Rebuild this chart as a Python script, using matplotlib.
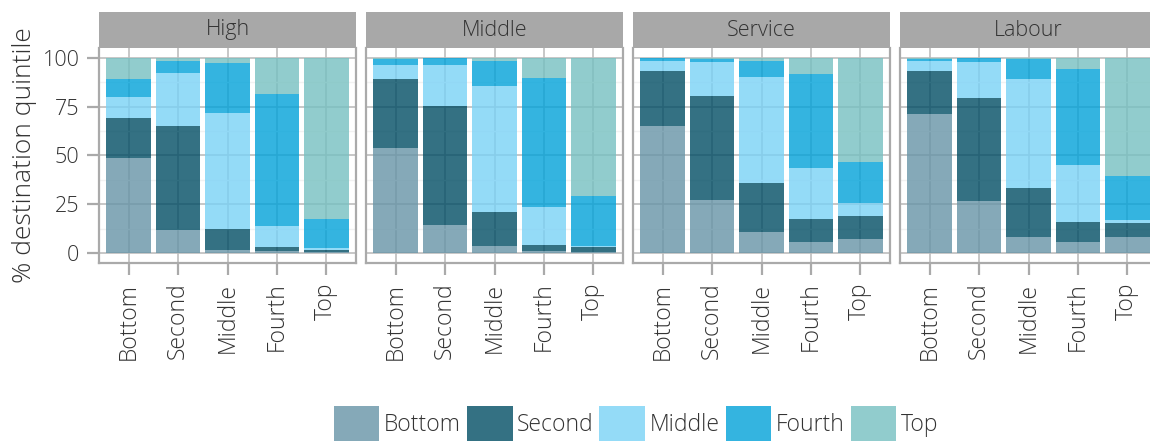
import matplotlib
matplotlib.use("Agg")
import matplotlib.pyplot as plt
import numpy as np
from matplotlib.patches import Patch

plt.rcParams["font.family"] = ["Open Sans", "DejaVu Sans"]
plt.rcParams["font.weight"] = "light"

origins = ["High", "Middle", "Service", "Labour"]
quintiles = ["Bottom", "Second", "Middle", "Fourth", "Top"]
colors = ["#6794a7", "#014d64", "#7ad2f6", "#01a2d9", "#76c0c1"]

# % in each destination quintile, rows = origin quintile (Bottom..Top)
# columns = destination quintile (Bottom, Second, Middle, Fourth, Top)
high = [
    [48.6, 20.4, 11.0, 9.3, 10.7],
    [12.0, 53.3, 26.9, 6.1, 1.7],
    [1.9, 10.5, 59.5, 25.4, 2.7],
    [1.2, 2.0, 10.8, 67.4, 18.6],
    [0.7, 0.8, 1.2, 14.7, 82.6],
]
middle = [
    [53.8, 35.5, 6.8, 3.4, 0.5],
    [14.4, 60.9, 20.8, 3.6, 0.3],
    [3.7, 17.5, 64.2, 13.2, 1.4],
    [1.2, 3.0, 19.5, 66.0, 10.3],
    [0.7, 2.5, 0.5, 25.4, 70.9],
]
service = [
    [65.3, 27.8, 5.2, 1.4, 0.3],
    [27.1, 53.4, 17.3, 1.4, 0.8],
    [10.7, 25.0, 54.5, 8.4, 1.4],
    [5.8, 11.6, 26.1, 48.4, 8.1],
    [7.3, 11.7, 6.7, 21.2, 53.1],
]
labour = [
    [71.2, 22.2, 5.2, 0.9, 0.5],
    [26.6, 52.8, 18.4, 1.9, 0.3],
    [8.5, 24.7, 55.8, 10.2, 0.8],
    [5.8, 10.1, 29.1, 49.1, 5.9],
    [8.3, 7.3, 1.3, 22.5, 60.6],
]
panels = [high, middle, service, labour]

W, H = 1150, 441
fig = plt.figure(figsize=(W / 100, H / 100), dpi=100)

text_col = "#333333"
frame_col = "#aaaaaa"
grid_col = "#bdbdbd"

lefts = [99, 366, 633, 900]
pw = 257
top, bottom = 48, 263
strip_top = 12

x = np.arange(1, 6)
for i, (name, data) in enumerate(zip(origins, panels)):
    ax = fig.add_axes([lefts[i] / W, 1 - bottom / H, pw / W, (bottom - top) / H])
    data = np.asarray(data)
    base = np.zeros(5)
    for j in range(5):
        ax.bar(x, data[:, j], bottom=base, width=0.9, color=colors[j],
               alpha=0.8, linewidth=0, zorder=2)
        base += data[:, j]
    ax.set_xlim(0.4, 5.6)
    ax.set_ylim(-5, 105)
    ax.set_yticks([0, 25, 50, 75, 100])
    ax.set_yticks([12.5, 37.5, 62.5, 87.5], minor=True)
    ax.set_xticks(x)
    ax.set_xticklabels(quintiles, rotation=90, fontsize=16.5, color=text_col)
    ax.grid(True, which="major", color=grid_col, linewidth=1.2, zorder=0)
    ax.grid(True, which="minor", axis="y", color="#f2f2f2", linewidth=1.0, zorder=0)
    ax.set_axisbelow(True)
    for s in ax.spines.values():
        s.set_color(frame_col)
        s.set_linewidth(1.6)
    ax.spines["top"].set_visible(False)
    ax.tick_params(axis="x", length=8.6, width=1.6, color=frame_col, pad=5.5)
    ax.tick_params(axis="y", which="minor", length=0)
    if i == 0:
        ax.set_yticklabels(["0", "25", "50", "75", "100"], fontsize=15.5, color=text_col)
        ax.tick_params(axis="y", which="major", length=8.6, width=1.6,
                       color=frame_col, pad=5.5)
        ax.set_ylabel("% destination quintile", fontsize=19, color=text_col,
                      fontweight="light", labelpad=4)
    else:
        ax.tick_params(axis="y", which="major", length=0, labelleft=False)

    sax = fig.add_axes([lefts[i] / W, 1 - top / H, pw / W, (top - strip_top) / H])
    sax.set_facecolor("#a8a8a8")
    sax.set_xticks([])
    sax.set_yticks([])
    for s in sax.spines.values():
        s.set_visible(False)
    sax.text(0.5, 0.5, name, ha="center", va="center", fontsize=15.5,
             color=text_col, transform=sax.transAxes)

# legend is centred on the full (uncropped) plot width, so it sits right of centre
handles = [Patch(facecolor=c, alpha=0.8, linewidth=0) for c in colors]
fig.legend(handles, quintiles, loc="center", bbox_to_anchor=(636 / W, 1 - 424 / H),
           ncol=5, frameon=False, fontsize=16.5, handlelength=2.0, handleheight=2.0,
           handletextpad=0.2, columnspacing=0.25, labelcolor=text_col)

fig.savefig("out.png", dpi=100)
